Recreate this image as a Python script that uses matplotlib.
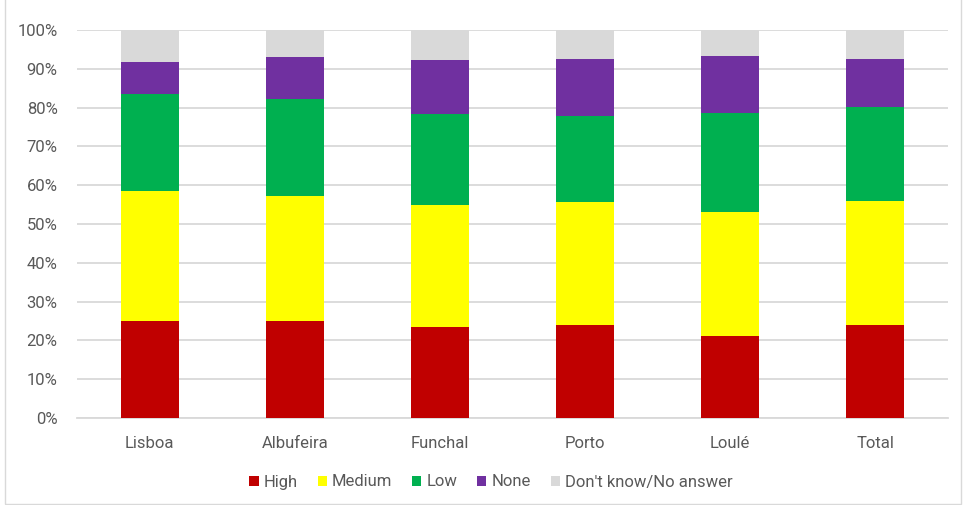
import matplotlib.pyplot as plt
import numpy as np
from matplotlib.ticker import PercentFormatter
from matplotlib.patches import Rectangle

plt.rcParams['font.family'] = ['Roboto', 'DejaVu Sans']

cities = ['Lisboa', 'Albufeira', 'Funchal', 'Porto', 'Loulé', 'Total']
high = [25.0, 25.0, 23.5, 23.9, 21.1, 23.9]
medium = [33.4, 32.2, 31.3, 31.7, 32.1, 32.1]
low = [25.0, 25.0, 23.5, 22.2, 25.4, 24.2]
none = [8.35, 10.8, 13.9, 14.7, 14.8, 12.3]
dont_know = [8.25, 7.0, 7.8, 7.5, 6.6, 7.5]

series = [('High', high, '#c00000'),
          ('Medium', medium, '#ffff00'),
          ('Low', low, '#00b050'),
          ('None', none, '#7030a0'),
          ("Don't know/No answer", dont_know, '#d9d9d9')]

fig = plt.figure(figsize=(9.66, 5.05), dpi=100)
ax = fig.add_axes([77 / 966, 1 - 418 / 505, 871 / 966, 388 / 505])

x = np.arange(len(cities))
bottom = np.zeros(len(cities))
for name, vals, col in series:
    ax.bar(x, vals, 0.4, bottom=bottom, color=col, label=name, zorder=3)
    bottom += np.array(vals)

ax.set_ylim(0, 100)
ax.set_xlim(-0.5, len(cities) - 0.5)
ax.set_yticks(np.arange(0, 101, 10))
ax.yaxis.set_major_formatter(PercentFormatter(decimals=0))
ax.set_xticks(x)
ax.set_xticklabels(cities)
ax.grid(axis='y', color='#d9d9d9', linewidth=1.3, zorder=0)
for s in ['top', 'right', 'left']:
    ax.spines[s].set_visible(False)
ax.spines['bottom'].set_color('#d9d9d9')
ax.spines['bottom'].set_linewidth(1.3)
ax.tick_params(length=0, labelsize=12, colors='#595959')
ax.tick_params(axis='x', pad=13)
ax.tick_params(axis='y', pad=14)

leg = fig.legend(loc='center', bbox_to_anchor=(491 / 966, 1 - 482 / 505), ncol=5,
                 frameon=False, fontsize=12, handlelength=0.55, handleheight=0.55,
                 handletextpad=0.3, columnspacing=1.2)
for t in leg.get_texts():
    t.set_color('#595959')

fig.patches.append(Rectangle((5 / 966, 0.002), 1 - 10 / 966, 1.5, transform=fig.transFigure,
                             fill=False, edgecolor='#d9d9d9', linewidth=1))

fig.savefig('out.png', dpi=100)
